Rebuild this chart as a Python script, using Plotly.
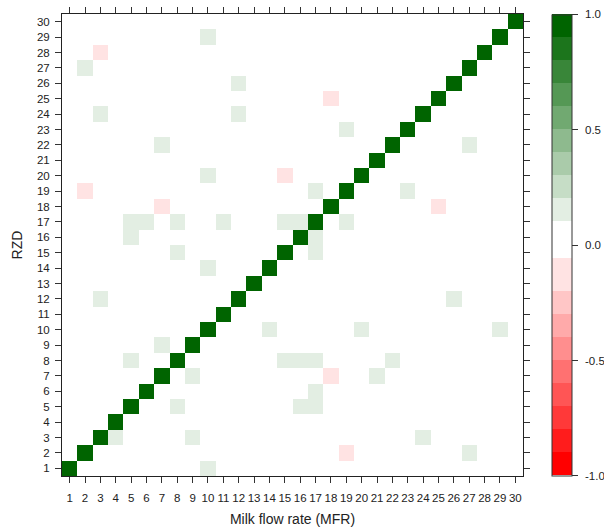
import plotly.graph_objects as go
import numpy as np

# Categories (markers 1..30)
mfr_labels = [str(i) for i in range(1, 31)]   # x axis: Milk flow rate (MFR)
rzd_labels = [str(i) for i in range(1, 31)]   # y axis: RZD

# diagonal value
diag_value = 1.0

# off-diagonal weak positive cells: (MFR index, RZD index)
pos_cells = [(10, 29), (2, 27), (12, 26), (3, 24), (12, 24), (19, 23), (7, 22), (27, 22),
             (10, 20), (17, 19), (23, 19), (5, 17), (6, 17), (8, 17), (11, 17), (15, 17),
             (16, 17), (19, 17), (5, 16), (17, 16), (8, 15), (17, 15), (10, 14), (3, 12),
             (26, 12), (14, 10), (20, 10), (29, 10), (7, 9), (5, 8), (15, 8), (16, 8),
             (17, 8), (22, 8), (9, 7), (21, 7), (17, 6), (8, 5), (16, 5), (17, 5), (4, 3),
             (9, 3), (24, 3), (27, 2), (10, 1)]
pos_value = 0.15

# off-diagonal weak negative cells
neg_cells = [(3, 28), (18, 25), (15, 20), (2, 19), (7, 18), (25, 18), (18, 7), (19, 2)]
neg_value = -0.12

# colorbar ticks
cb_tickvals = [-1, -0.5, 0, 0.5, 1]
cb_ticktext = ["-1.0", "-0.5", "0.0", "0.5", "1.0"]

n = len(mfr_labels)
z = np.zeros((n, n))
for i in range(n):
    z[i, i] = diag_value
for (cx, ry) in pos_cells:
    z[ry - 1, cx - 1] = pos_value
for (cx, ry) in neg_cells:
    z[ry - 1, cx - 1] = neg_value

# stepped colour scale
green_bounds = [0.1, 0.2, 0.3, 0.4, 0.5, 0.6, 0.7, 0.8, 0.9, 1.0]
red_bounds = [-1.0, -0.9, -0.8, -0.7, -0.6, -0.5, -0.4, -0.3, -0.2, -0.058]

def mix(c, t):
    return "rgb(%d,%d,%d)" % tuple(round(255 * (1 - t) + ci * t) for ci in c)

def norm(v):
    return (v + 1) / 2

cs = []
for k in range(9):
    lo, hi = red_bounds[k], red_bounds[k + 1]
    col = mix((255, 0, 0), (9 - k) / 9)
    cs.append([norm(lo), col])
    cs.append([norm(hi), col])
cs.append([norm(red_bounds[-1]), "rgb(255,255,255)"])
cs.append([norm(green_bounds[0]), "rgb(255,255,255)"])
for k in range(9):
    lo, hi = green_bounds[k], green_bounds[k + 1]
    col = mix((0, 100, 0), (k + 1) / 9)
    cs.append([norm(lo), col])
    cs.append([norm(hi), col])

x_vals = list(range(1, n + 1))
y_vals = list(range(1, n + 1))

FONT = "Liberation Sans, Arial"
W, H = 604, 531
ML, MR, MT, MB = 62, 81, 14, 55
plot_w = W - ML - MR
cb_left_px = 552
cb_label_px = 583

fig = go.Figure(go.Heatmap(
    z=z, x=x_vals, y=y_vals, zmin=-1, zmax=1, colorscale=cs,
    colorbar=dict(
        thickness=20, lenmode="pixels", len=461,
        x=(cb_left_px - ML) / plot_w, xanchor="left",
        y=0.5, yanchor="middle", xpad=0, ypad=0,
        outlinecolor="#333", outlinewidth=1,
        tickvals=cb_tickvals, showticklabels=False,
        ticks="outside", ticklen=6, tickcolor="#333",
    ),
    hoverongaps=False,
))

# colorbar labels as annotations (keeps colorbar from pushing the margin)
for v, t in zip(cb_tickvals, cb_ticktext):
    fig.add_annotation(x=(cb_label_px - ML) / plot_w, y=(v + 1) / 2, xref="paper", yref="paper",
                       text=t, showarrow=False, xanchor="left", yanchor="middle",
                       font=dict(family=FONT, size=11.5, color="#222"))

axis_common = dict(
    range=[0.5, 30.5], showgrid=False, zeroline=False, automargin=False,
    showline=True, linecolor="#222", linewidth=1, mirror="ticks",
    ticks="outside", ticklen=6, tickcolor="#333", tickangle=0,
    tickfont=dict(family=FONT, size=11.5, color="#222"),
)

fig.update_layout(
    width=W, height=H,
    margin=dict(l=ML, r=MR, t=MT, b=MB),
    plot_bgcolor="white", paper_bgcolor="white",
    xaxis=dict(axis_common, tickvals=x_vals, ticktext=mfr_labels, ticklabelstandoff=5,
               title=dict(text="Milk flow rate (MFR)", standoff=11,
                          font=dict(family=FONT, size=14, color="#222"))),
    yaxis=dict(axis_common, tickvals=y_vals, ticktext=rzd_labels, ticklabelstandoff=3,
               title=dict(text="RZD", standoff=11,
                          font=dict(family=FONT, size=14, color="#222"))),
    font=dict(family=FONT),
)

fig.write_html("out.html")
